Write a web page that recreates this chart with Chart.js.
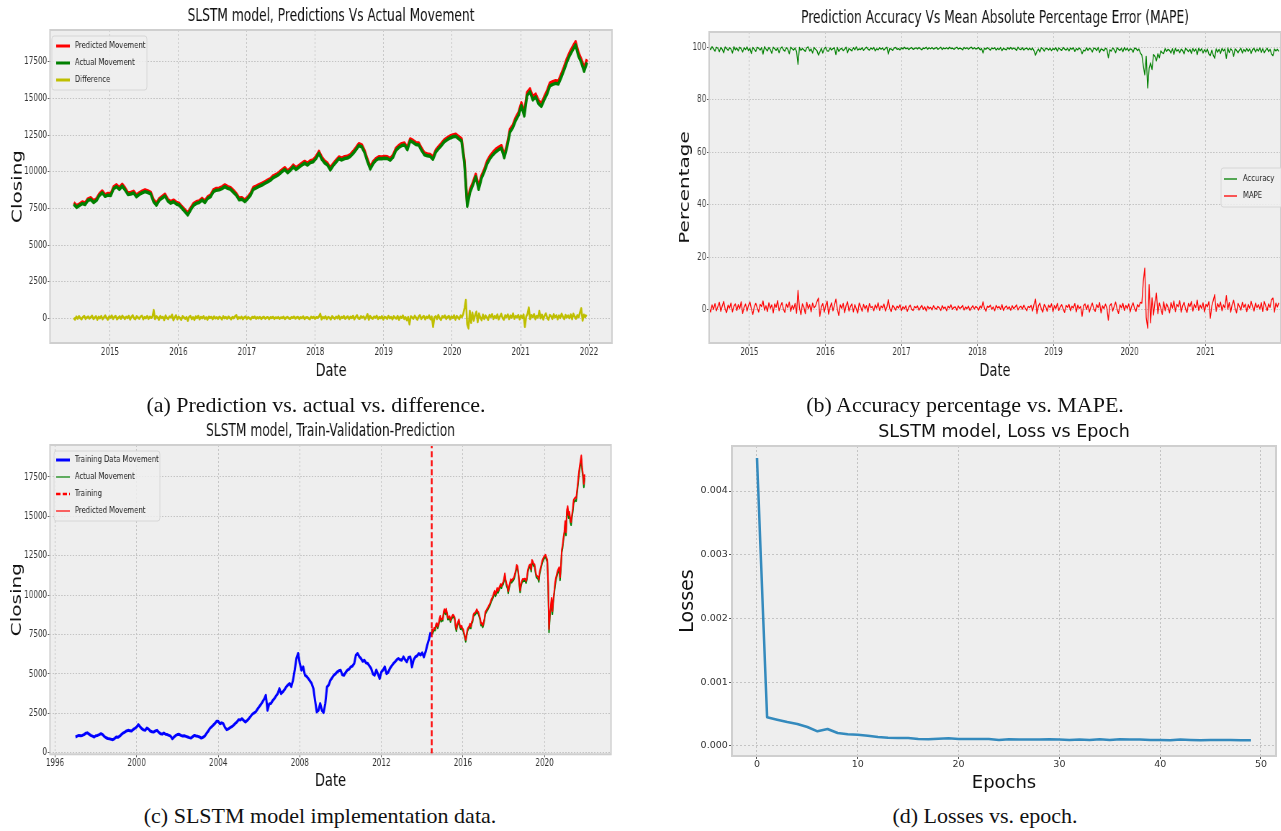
<!DOCTYPE html>
<html>
<head>
<meta charset="utf-8">
<title>SLSTM model results</title>
<script src="https://cdn.jsdelivr.net/npm/chart.js@4.4.1/dist/chart.umd.min.js"></script>
<style>
  html, body { margin: 0; padding: 0; background: #ffffff; }
  body { width: 1281px; height: 831px; position: relative; overflow: hidden; }
  canvas { position: absolute; transform-origin: 0 0; }
  .cap {
    position: absolute; white-space: nowrap; color: #111;
    font-family: "Liberation Serif", "DejaVu Serif", serif;
    font-size: 22px; line-height: 22px; transform: translateX(-50%);
  }
</style>
</head>
<body>
<canvas id="chartA" width="889" height="392" style="left:0px;top:0px;transform:scaleX(0.72)"></canvas>
<canvas id="chartB" width="890" height="392" style="left:640px;top:0px;transform:scaleX(0.72)"></canvas>
<canvas id="chartC" width="889" height="392" style="left:0px;top:410px;transform:scaleX(0.72)"></canvas>
<canvas id="chartD" width="641" height="392" style="left:640px;top:410px"></canvas>

<div class="cap" style="left:316px;top:394px">(a) Prediction vs. actual vs. difference.</div>
<div class="cap" style="left:965px;top:394px">(b) Accuracy percentage vs. MAPE.</div>
<div class="cap" style="left:320px;top:805px">(c) SLSTM model implementation data.</div>
<div class="cap" style="left:985px;top:805px">(d) Losses vs. epoch.</div>

<script>
// ---------------------------------------------------------------------------
// Data
// ---------------------------------------------------------------------------

// Test period: semi-monthly closing values from mid-2014 to the end of 2021.
const actualClose = [
  7780,7560,7700,7820,7760,8050,8100,7900,8050,8380,8560,8320,
  8400,8380,8850,8980,8790,9020,8760,8450,8480,8550,8300,8450,
  8560,8640,8580,8480,7950,7720,8050,8200,8340,8000,7850,7950,
  7800,7720,7500,7280,7050,7400,7700,7840,7900,8070,7900,8180,
  8300,8640,8740,8760,8850,8980,8860,8800,8600,8400,8080,8120,
  7960,8150,8400,8800,8900,9000,9090,9200,9300,9420,9600,9700,
  9820,10000,10150,9930,10100,10330,10150,10300,10450,10580,10450,10620,
  10680,10900,11250,10850,10600,10450,10120,10420,10650,10880,10800,10900,
  10930,11050,11250,11500,11780,11700,11300,10700,10180,10550,10780,10900,
  10880,10920,10900,10780,11000,11450,11650,11780,11820,11500,12100,12000,
  11850,11820,11450,11150,11080,11050,10850,11350,11580,11800,12050,12180,
  12300,12380,12420,12250,12100,10600,7650,8600,9100,9650,8800,9550,
  10000,10550,10900,11150,11350,11500,11600,10950,11700,12700,13000,13500,
  13850,14500,13800,15200,15450,14900,15100,14650,14450,14900,15300,15850,
  15950,16020,15980,16450,16950,17500,17950,18300,18650,17900,17450,16850,
  17450
];

const predictedClose = [
  7880,7690,7790,7930,7870,8150,8220,8010,8150,8490,8680,8430,
  8510,8490,8970,9100,8910,9140,8880,8560,8590,8660,8410,8560,
  8670,8760,8690,8590,8080,7840,8160,8310,8460,8110,7960,8060,
  7910,7830,7610,7390,7170,7510,7820,7950,8010,8180,8010,8290,
  8410,8760,8860,8870,8970,9100,8980,8910,8720,8510,8200,8230,
  8070,8260,8520,8920,9010,9110,9200,9310,9420,9530,9720,9810,
  9940,10120,10270,10050,10220,10450,10270,10420,10570,10700,10570,10740,
  10800,11030,11380,10980,10730,10570,10250,10540,10780,11000,10920,11020,
  11050,11170,11380,11630,11910,11830,11430,10840,10310,10680,10900,11020,
  11000,11040,11020,10900,11130,11580,11780,11910,11950,11630,12230,12130,
  11980,11950,11580,11280,11210,11180,10990,11480,11710,11930,12180,12310,
  12430,12510,12560,12390,12240,10800,7850,8780,9260,9820,8990,9710,
  10160,10720,11070,11310,11520,11660,11770,11130,11860,12880,13170,13680,
  14030,14690,14000,15400,15640,15100,15290,14850,14640,15090,15500,16040,
  16140,16200,16170,16650,17150,17710,18150,18510,18860,18120,17660,17070,
  17660
];

// Weekly series over the same test period (13 weeks per row).
const closeDifference = [
  30,-70,110,-20,140,20,-60,90,160,-30,60,120,-10,
  80,170,-40,50,130,-80,100,20,150,-50,70,180,40,
  -90,120,60,190,-30,90,150,-60,40,130,-20,170,80,
  -40,110,30,160,-70,90,200,10,-50,140,60,-20,120,
  170,-60,80,20,150,-30,110,40,90,560,-40,130,60,
  -80,150,30,90,-110,180,40,-30,120,70,240,-120,60,
  200,-50,110,20,-90,130,60,-20,80,-160,100,150,-40,
  70,-100,120,30,160,-60,90,10,140,-30,60,-80,110,
  40,90,-50,120,10,70,-30,100,50,-70,130,20,80,
  -20,110,40,-60,90,20,130,210,-40,70,10,100,-50,
  60,120,-30,80,20,-60,90,40,110,-20,70,10,90,
  -40,60,100,-20,50,80,-50,70,30,90,-30,60,20,
  80,-20,60,30,100,-40,50,90,10,-30,70,40,110,
  -10,60,90,-40,70,20,120,-30,50,80,10,-50,100,
  30,90,-20,70,40,120,300,-60,80,20,130,-40,90,
  50,-70,140,60,-30,110,20,170,-50,90,40,150,-20,
  80,130,-40,100,30,160,-60,90,200,10,-30,140,60,
  120,-50,90,280,-80,150,40,-20,110,60,170,-40,80,
  30,140,-70,100,60,-30,160,20,90,-60,130,50,-10,
  150,-80,110,40,180,-30,70,-120,90,-400,130,60,-20,
  170,40,-90,120,200,-30,80,150,-60,100,30,190,-50,
  110,-570,60,140,-40,220,20,-100,130,70,180,-30,90,
  160,-60,120,40,200,-80,150,60,-40,180,90,300,700,
  1250,-400,-680,500,-300,380,-150,200,450,-250,320,60,-120,
  240,-40,180,60,-90,220,100,280,-30,150,40,260,-60,
  130,300,20,-80,200,90,260,-40,180,60,320,-20,150,
  80,220,-60,190,40,260,-570,120,300,730,-40,210,90,
  280,-50,160,60,500,20,240,-70,180,330,40,-90,220,
  150,-30,270,80,200,-60,190,40,310,110,-40,230,70,
  180,20,260,-50,300,120,-20,210,80,400,680,-150,240,
  90,250
];

const mapePct = [
  0.4,-0.9,1.8,0.1,2.3,-0.4,1.2,2.8,-0.6,1.4,3.1,0.2,-1.1,
  1.7,0.6,2.5,-0.8,1.3,2.2,-0.3,1.9,0.4,3.0,-1.4,0.9,2.1,
  -0.5,1.6,2.9,0.3,-1.8,1.1,2.4,0.7,-0.9,2.0,1.2,3.3,-0.2,
  1.5,-0.7,2.6,0.5,1.8,-1.2,2.2,0.9,3.4,-0.4,1.3,2.7,0.1,
  -1.0,2.1,0.8,2.9,-0.6,1.6,0.2,2.4,-1.3,7.3,0.6,-1.9,2.2,
  1.0,-1.5,2.8,0.4,1.9,-0.8,2.5,0.7,1.4,3.0,4.4,-2.5,1.1,
  2.3,-0.9,1.5,3.2,-1.7,0.8,2.6,-0.4,1.7,4.0,0.2,-2.2,1.8,
  0.5,2.4,-1.1,1.6,3.0,-0.5,1.2,2.2,-0.8,1.9,0.3,-1.3,2.5,
  1.1,-0.6,2.0,0.4,1.5,-0.9,2.3,0.8,1.2,-0.4,1.8,0.6,2.6,
  -0.3,1.4,0.7,2.1,-0.5,1.0,3.8,0.4,-0.7,1.6,0.9,-0.2,1.3,
  0.6,1.8,-0.4,1.1,0.3,1.5,-0.6,0.9,1.7,0.2,-0.3,1.2,0.7,
  1.4,-0.2,0.8,1.6,0.1,1.1,-0.5,1.3,0.4,0.9,-0.1,1.5,0.6,
  0.2,1.2,0.7,-0.3,1.5,0.5,1.0,-0.4,1.3,0.6,1.8,0.1,0.9,
  1.1,-0.2,1.4,0.5,0.8,1.6,-0.1,1.0,0.4,1.3,-0.3,0.7,1.5,
  0.3,1.2,0.8,-0.2,1.4,0.6,3.0,0.5,-0.6,1.3,0.9,1.7,0.2,
  1.0,-0.4,1.6,0.7,1.2,0.1,1.9,-0.3,0.8,1.4,0.3,1.1,-0.2,
  1.5,0.4,1.0,1.8,-0.1,0.9,1.3,0.2,1.7,0.6,-0.4,1.2,0.8,
  1.6,-0.5,2.1,4.0,-1.5,1.4,2.5,0.3,-0.9,2.0,1.1,-0.6,1.7,
  0.8,2.2,-0.7,1.5,0.4,2.4,-0.3,1.1,1.9,0.2,-1.0,1.6,0.9,
  2.0,-0.4,1.3,0.6,2.3,-0.8,1.7,0.5,1.2,-2.5,1.5,2.2,0.1,
  1.8,-0.9,1.0,2.5,0.3,-0.6,1.9,0.8,2.7,-1.2,1.4,0.4,2.1,
  0.6,-4.0,1.5,2.3,-0.5,1.2,2.9,0.2,-1.4,1.8,0.7,2.4,-0.3,
  1.6,0.5,2.2,-0.8,1.3,2.6,0.4,-0.6,1.9,1.1,2.8,2.5,10.8,
  15.8,-3.0,-7.0,9.5,-5.0,4.5,-2.0,3.0,6.3,-1.5,2.5,0.6,-1.8,
  3.0,-0.4,2.2,0.9,-1.2,2.7,0.6,3.3,-0.7,2.0,1.1,3.4,-0.9,
  1.5,2.8,0.3,-1.0,2.4,1.2,3.1,-0.5,2.1,0.8,3.6,-0.3,1.7,
  0.5,2.6,-0.8,2.0,1.1,3.0,-3.2,1.4,3.5,5.7,-0.6,2.3,1.0,
  2.9,-0.4,1.8,0.7,5.3,0.2,2.7,-0.9,2.0,3.6,0.5,-1.2,2.4,
  1.3,-0.2,2.8,0.9,2.1,-0.7,2.0,0.6,3.2,1.2,-0.5,2.5,0.8,
  1.9,0.3,2.7,-0.6,3.1,1.4,-0.3,2.2,0.9,3.8,4.4,-0.9,2.5,
  1.0,2.6
];

const accuracyPct = [
  99.7,99.1,100.2,99.4,98.5,100.0,99.6,98.3,99.9,99.2,97.9,100.1,99.5,
  98.8,99.8,99.3,97.8,100.2,99.0,99.7,98.6,100.0,99.4,98.2,99.8,99.1,
  100.1,98.7,99.5,97.6,99.9,99.2,98.4,100.0,99.6,98.9,99.8,97.4,100.2,
  99.3,98.6,99.9,99.1,97.7,100.0,99.4,98.8,99.7,97.9,99.5,100.1,99.0,
  98.5,99.8,99.2,97.5,100.0,99.4,98.9,99.7,98.3,93.5,99.9,98.8,99.5,
  99.0,98.4,99.8,100.1,98.6,99.3,97.8,99.9,99.2,98.7,97.0,98.2,99.6,
  97.8,99.4,100.0,98.6,98.5,99.7,98.9,99.5,99.8,97.2,99.9,98.4,99.3,
  99.6,98.7,99.2,100.0,97.9,99.5,99.1,98.6,99.8,99.0,100.1,98.9,99.4,
  99.1,99.8,98.8,99.5,100.0,99.3,98.9,99.7,99.2,99.9,98.6,99.4,99.0,
  99.8,99.2,99.7,98.9,99.6,100.0,97.4,99.5,99.3,98.8,99.7,99.9,99.2,
  99.5,99.0,99.8,99.3,100.0,99.4,99.7,99.1,99.6,99.9,99.2,99.5,99.8,
  99.3,99.9,99.4,99.0,99.7,99.5,100.0,99.2,99.8,99.4,99.9,99.3,99.6,
  99.9,99.2,99.6,100.0,99.1,99.7,99.4,99.8,99.3,100.0,99.5,99.7,99.2,
  99.6,100.0,99.3,99.7,99.5,99.0,99.9,99.4,99.8,99.2,99.7,100.0,99.3,
  99.8,99.3,99.6,99.9,99.0,99.5,97.8,99.6,99.2,99.8,99.4,98.9,99.7,
  99.4,99.8,98.9,99.5,99.1,99.9,98.7,99.6,99.3,99.0,99.8,99.2,99.9,
  99.2,99.7,99.4,98.8,100.0,99.3,99.1,99.8,98.9,99.5,99.7,99.0,99.6,
  99.0,99.7,98.6,97.0,98.4,99.3,98.2,99.8,99.4,98.5,99.6,99.5,98.9,
  99.6,98.7,99.5,99.1,99.8,98.5,99.7,99.2,98.8,99.9,99.3,98.9,99.6,
  98.6,99.7,99.2,99.8,98.4,99.5,99.0,99.7,99.1,97.5,98.9,98.6,99.8,
  98.8,99.6,99.3,98.2,99.7,99.5,98.7,99.9,98.0,99.4,99.1,98.6,99.6,
  99.3,96.0,99.0,98.5,99.7,99.1,97.9,99.8,99.2,98.8,99.6,98.3,99.9,
  98.9,99.6,98.6,99.4,99.2,98.1,99.7,99.5,98.7,99.3,97.8,97.0,93.0,
  89.5,96.5,84.5,92.0,94.0,91.5,97.2,96.5,94.8,97.5,96.0,98.6,97.9,
  97.6,99.5,98.4,99.2,98.8,97.8,99.4,97.3,99.6,98.5,99.1,97.9,99.3,
  98.7,97.5,99.6,99.0,98.3,99.2,97.6,99.5,98.4,99.3,97.2,99.6,98.6,
  99.4,97.8,99.1,98.2,99.3,97.4,96.8,98.9,97.0,95.8,99.4,98.1,99.2,
  97.6,99.5,98.6,99.3,95.8,99.7,98.0,99.4,98.7,96.5,99.4,98.8,97.9,
  98.9,99.6,97.8,99.2,98.3,99.5,98.4,99.3,97.6,99.1,99.6,98.2,99.3,
  98.5,99.7,98.0,99.4,97.9,98.9,99.6,98.3,99.2,97.4,96.8,99.3,98.6,
  99.2,98.4
];

// Training period: monthly closing values, January 1997 to mid-2014.
const trainClose = [
  1000,1050,1100,1080,1100,1150,1230,1260,1180,1100,1050,1000,
  1080,1100,1150,1210,1150,1030,950,900,880,850,830,900,
  1000,980,1050,1150,1250,1310,1380,1420,1400,1380,1480,1550,
  1630,1780,1650,1530,1450,1420,1570,1500,1380,1330,1310,1380,
  1420,1300,1210,1180,1250,1170,1150,1100,1050,890,1000,1100,
  1150,1170,1100,1060,1080,1040,1000,960,930,1020,1100,1060,
  1040,1000,930,980,1050,1210,1350,1530,1640,1740,1850,1990,
  1990,1840,1900,1840,1600,1460,1520,1590,1650,1740,1850,1950,
  2100,2080,2160,2050,1950,2050,2160,2300,2440,2520,2590,2750,
  2900,3050,3220,3400,3650,2690,3100,3120,3300,3430,3600,3750,
  4070,3750,3860,4000,4180,4300,4390,4200,4600,5240,5980,6300,
  5660,5240,5450,4920,4850,4710,4550,4390,4070,3300,2590,2700,
  3120,2690,2550,3120,4180,4300,4600,4750,4920,5000,5130,5200,
  5240,4950,4920,5100,5240,5300,5450,5500,5660,6190,6300,6100,
  5980,5800,5870,5700,5660,5500,5340,5000,4920,5240,5000,4710,
  5130,5250,5450,5020,5100,5340,5500,5650,5770,5900,5980,5900,
  5870,6080,5900,5770,6050,6080,5450,5900,6080,6150,6300,6200,
  6340,6080,6400,6830,7200,7650
];

// Training loss per epoch.
const lossValues = [
  0.004517,0.00045,0.000413,0.000376,0.000345,0.000298,0.00023,0.000267,0.000204,0.000183,
  0.000178,0.000162,0.000141,0.000131,0.000125,0.000125,0.00011,0.000105,0.000115,0.00012,
  0.00011,0.00011,0.00011,0.00011,0.000094,0.000105,0.0001,0.0001,0.0001,0.000105,
  0.0001,0.000094,0.0001,0.000094,0.000105,0.000094,0.000105,0.0001,0.0001,0.000094,
  0.000094,0.000089,0.0001,0.000094,0.000089,0.000094,0.000094,0.000094,0.000089,0.000089
];

// Time axes (decimal years) and epoch axis.
const testStart = 2014.47;        // first test sample, also the train/test split
const trainStart = 1997.0;
const testDates = actualClose.map((_, i) => +(testStart + i / 24).toFixed(4));
const weekDates = closeDifference.map((_, i) => +(testStart + i * 7 / 365.25).toFixed(4));
const trainDates = trainClose.map((_, i) => +(trainStart + i / 12).toFixed(4));
const epochs = lossValues.map((_, i) => i);

// Tick labels.
const yearTicksA = [2015, 2016, 2017, 2018, 2019, 2020, 2021, 2022];
const yearTicksB = [2015, 2016, 2017, 2018, 2019, 2020, 2021];
const yearTicksC = [1996, 2000, 2004, 2008, 2012, 2016, 2020];
const closeTicks = [0, 2500, 5000, 7500, 10000, 12500, 15000, 17500];
const percentTicks = [0, 20, 40, 60, 80, 100];
const epochTicks = [0, 10, 20, 30, 40, 50];
const lossTicks = [0, 0.001, 0.002, 0.003, 0.004];

// ---------------------------------------------------------------------------
// Drawing helpers
// ---------------------------------------------------------------------------
const FONT = '"DejaVu Sans", "Liberation Sans", sans-serif';

const pts = (xs, ys) => ys.map((y, i) => ({ x: xs[i], y }));

// Grey plot background and light frame around the plot area.
const plotFrame = {
  id: 'plotFrame',
  beforeDraw(chart) {
    const { ctx, chartArea: a } = chart;
    ctx.save();
    ctx.fillStyle = '#eeeeee';
    ctx.fillRect(a.left, a.top, a.right - a.left, a.bottom - a.top);
    ctx.restore();
  },
  afterDatasetsDraw(chart) {
    const { ctx, chartArea: a } = chart;
    ctx.save();
    ctx.strokeStyle = '#cfcfcf';
    ctx.lineWidth = 2;
    ctx.strokeRect(a.left, a.top, a.right - a.left, a.bottom - a.top);
    ctx.restore();
  }
};

// Legend box placed inside the plot area.
const insetLegend = {
  id: 'insetLegend',
  afterDraw(chart, args, o) {
    if (!o || !o.box) return;
    const ctx = chart.ctx;
    const [bx, by, bw, bh] = o.box;
    ctx.save();
    ctx.beginPath();
    ctx.roundRect(bx, by, bw, bh, 3);
    ctx.fillStyle = 'rgba(238,238,238,0.85)';
    ctx.fill();
    ctx.strokeStyle = '#d6d6d6';
    ctx.lineWidth = 1;
    ctx.stroke();
    ctx.font = o.fontSize + 'px ' + FONT;
    ctx.textBaseline = 'middle';
    chart.data.datasets.forEach((ds, i) => {
      const y = o.rowY + i * o.rowGap;
      ctx.strokeStyle = ds.borderColor;
      ctx.lineWidth = o.sampleWidths ? o.sampleWidths[i] : ds.borderWidth;
      ctx.setLineDash(ds.borderDash || []);
      ctx.beginPath();
      ctx.moveTo(o.lineX[0], y);
      ctx.lineTo(o.lineX[1], y);
      ctx.stroke();
      ctx.setLineDash([]);
      ctx.fillStyle = '#222';
      ctx.fillText(ds.label, o.textX, y);
    });
    ctx.restore();
  }
};

function axis(o) {
  return {
    type: 'linear',
    position: o.position,
    min: o.min,
    max: o.max,
    afterBuildTicks: s => { s.ticks = o.ticks.map(v => ({ value: v })); },
    afterFit: s => {
      if (o.position === 'left') { s.width = o.size; s.paddingTop = 0; s.paddingBottom = 0; }
      else { s.height = o.size; s.paddingLeft = 0; s.paddingRight = 0; }
    },
    ticks: {
      autoSkip: false, maxRotation: 0, minRotation: 0,
      color: '#333', padding: o.tickPad,
      font: { family: FONT, size: o.tickSize },
      callback: o.fmt || (v => String(v))
    },
    grid: {
      color: '#c4c4c4', lineWidth: 1,
      drawTicks: true, tickLength: 3, tickColor: '#555', tickWidth: 1, tickBorderDash: []
    },
    border: { display: false, dash: [2, 2] },
    title: {
      display: true, text: o.title, color: '#111',
      font: { family: FONT, size: o.titleSize },
      padding: o.titlePad
    }
  };
}

function makeChart(id, c) {
  return new Chart(document.getElementById(id), {
    type: 'line',
    data: { datasets: c.datasets },
    options: {
      responsive: false,
      animation: false,
      events: [],
      layout: { padding: { left: 0, right: c.padRight, top: 0, bottom: 0 } },
      elements: { point: { radius: 0 }, line: { tension: 0, borderJoinStyle: 'round' } },
      plugins: {
        legend: { display: false },
        tooltip: { enabled: false },
        title: {
          display: true, text: c.title, fullSize: false, color: '#111',
          font: { family: FONT, size: c.titleSize, weight: 'normal' },
          padding: c.titlePad
        },
        insetLegend: c.legend || {}
      },
      scales: { x: c.x, y: c.y }
    },
    plugins: [plotFrame, insetLegend]
  });
}

// ---------------------------------------------------------------------------
// (a) Predictions vs actual movement
// ---------------------------------------------------------------------------
makeChart('chartA', {
  title: 'SLSTM model, Predictions Vs Actual Movement',
  titleSize: 17, titlePad: { top: 6.8, bottom: 2.8 },
  padRight: 39,
  datasets: [
    { label: 'Predicted Movement', data: pts(testDates, predictedClose), borderColor: '#ff0000', borderWidth: 3.5, order: 3 },
    { label: 'Actual Movement', data: pts(testDates, actualClose), borderColor: '#008000', borderWidth: 3.5, order: 2 },
    { label: 'Difference', data: pts(weekDates, closeDifference), borderColor: '#bfbf00', borderWidth: 2.6, order: 1 }
  ],
  legend: { box: [72, 36, 132, 54], rowY: 46, rowGap: 17, lineX: [78, 97], textX: 104, fontSize: 9.5, sampleWidths: [3, 3, 3] },
  x: axis({ position: 'bottom', min: 2014.123, max: 2022.336, ticks: yearTicksA, size: 49, tickSize: 10, tickPad: 0,
            title: 'Date', titleSize: 18, titlePad: { top: 0, bottom: 9.5 } }),
  y: axis({ position: 'left', min: -1680, max: 19660, ticks: closeTicks, size: 69.4, tickSize: 10, tickPad: 1,
            title: 'Closing', titleSize: 20, titlePad: { top: 12.3, bottom: 0 } })
});

// ---------------------------------------------------------------------------
// (b) Prediction accuracy vs MAPE
// ---------------------------------------------------------------------------
makeChart('chartB', {
  title: 'Prediction Accuracy Vs Mean Absolute Percentage Error (MAPE)',
  titleSize: 17, titlePad: { top: 8.8, bottom: 2.8 },
  padRight: 0,
  datasets: [
    { label: 'Accuracy', data: pts(weekDates, accuracyPct), borderColor: '#008000', borderWidth: 1.3, order: 2 },
    { label: 'MAPE', data: pts(weekDates, mapePct), borderColor: '#ff0000', borderWidth: 1.3, order: 1 }
  ],
  legend: { box: [807, 168, 95, 39], rowY: 179, rowGap: 17, lineX: [811, 829], textX: 837.5, fontSize: 9.5 },
  x: axis({ position: 'bottom', min: 2014.47, max: 2021.99, ticks: yearTicksB, size: 49, tickSize: 10, tickPad: 0,
            title: 'Date', titleSize: 18, titlePad: { top: 0, bottom: 9.5 } }),
  y: axis({ position: 'left', min: -12.7, max: 105.8, ticks: percentTicks, size: 96, tickSize: 10, tickPad: 1,
            title: 'Percentage', titleSize: 20, titlePad: { top: 50.5, bottom: 0 } })
});

// ---------------------------------------------------------------------------
// (c) Train / validation / prediction
// ---------------------------------------------------------------------------
const closeRangeC = [-100, 19530];
makeChart('chartC', {
  title: 'SLSTM model, Train-Validation-Prediction',
  titleSize: 17, titlePad: { top: 11.5, bottom: 3.1 },
  padRight: 40.4,
  datasets: [
    { label: 'Training Data Movement', data: pts(trainDates, trainClose), borderColor: '#0000ff', borderWidth: 3, order: 4 },
    { label: 'Actual Movement', data: pts(testDates, actualClose), borderColor: '#008000', borderWidth: 2, order: 3 },
    { label: 'Training', data: pts([testStart, testStart], closeRangeC), borderColor: '#ff0000', borderWidth: 2.4, borderDash: [6, 3], order: 2 },
    { label: 'Predicted Movement', data: pts(testDates, predictedClose), borderColor: '#ff0000', borderWidth: 2, order: 1 }
  ],
  legend: { box: [75, 41, 147, 70], rowY: 50, rowGap: 17, lineX: [78, 97], textX: 104, fontSize: 9.5, sampleWidths: [3, 1.2, 2.4, 1.2] },
  x: axis({ position: 'bottom', min: 1995.75, max: 2023.26, ticks: yearTicksC, size: 47.7, tickSize: 10, tickPad: 0,
            title: 'Date', titleSize: 18, titlePad: { top: 0, bottom: 9.5 } }),
  y: axis({ position: 'left', min: closeRangeC[0], max: closeRangeC[1], ticks: closeTicks, size: 69.4, tickSize: 10, tickPad: 1,
            title: 'Closing', titleSize: 20, titlePad: { top: 11.6, bottom: 0 } })
});

// ---------------------------------------------------------------------------
// (d) Loss vs epoch
// ---------------------------------------------------------------------------
makeChart('chartD', {
  title: 'SLSTM model, Loss vs Epoch',
  titleSize: 17.5, titlePad: { top: 11.5, bottom: 3.5 },
  padRight: 5,
  datasets: [
    { label: 'Loss', data: pts(epochs, lossValues), borderColor: '#348abd', borderWidth: 2.5 }
  ],
  x: axis({ position: 'bottom', min: -2.48, max: 51.49, ticks: epochTicks, size: 46, tickSize: 9.5, tickPad: 0,
            title: 'Epochs', titleSize: 18, titlePad: { top: 0, bottom: 8.2 } }),
  y: axis({ position: 'left', min: -0.000157, max: 0.004706, ticks: lossTicks, size: 92, tickSize: 9.5, tickPad: 1.2,
            fmt: v => v.toFixed(3),
            title: 'Losses', titleSize: 19, titlePad: { top: 36.6, bottom: 0 } })
});
</script>
</body>
</html>
